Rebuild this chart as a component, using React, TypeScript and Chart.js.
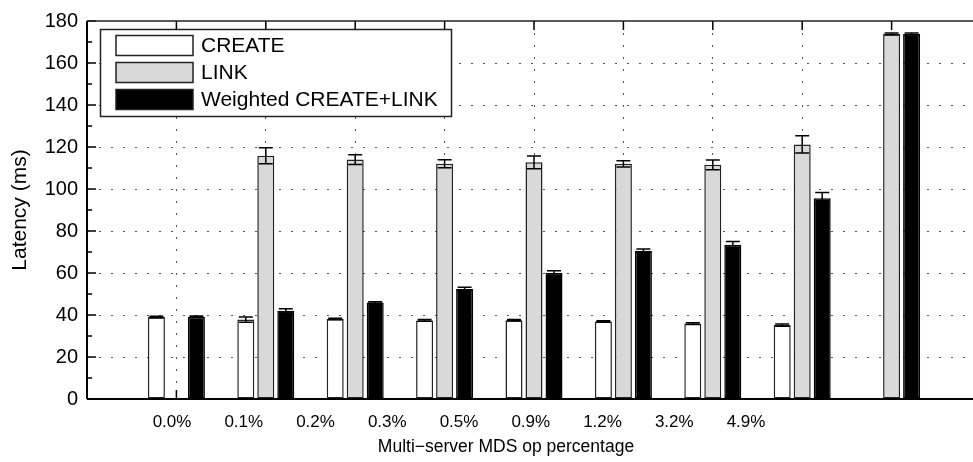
import React, { useEffect, useRef } from "react";
import { Chart, registerables } from "chart.js";

Chart.register(...registerables);

const categories = ["0.0%", "0.1%", "0.2%", "0.3%", "0.5%", "0.9%", "1.2%", "3.2%", "4.9%"];
const createValues = [39.0, 37.8, 38.1, 37.4, 37.5, 36.9, 35.9, 35.2, null];
const createErrors = [0.4, 1.2, 0.4, 0.4, 0.4, 0.4, 0.4, 0.5, null];
const linkValues = [null, 115.8, 114.0, 112.0, 112.7, 112.0, 111.5, 121.2, 173.8];
const linkErrors = [null, 3.8, 2.3, 1.9, 3.0, 1.5, 2.3, 4.1, 0.5];
const weightedValues = [39.2, 42.0, 45.9, 52.4, 60.0, 70.6, 73.5, 95.6, 173.8];
const weightedErrors = [0.3, 1.0, 0.4, 0.8, 1.1, 0.8, 1.5, 2.7, 0.5];
const seriesNames = ["CREATE", "LINK", "Weighted CREATE+LINK"];
const xTitle = "Multi\u2212server MDS op percentage";
const yTitle = "Latency (ms)";
const yMin = 0;
const yMax = 180;
const yStep = 20;

const FONT = "'Liberation Sans', Arial, Helvetica, sans-serif";

const pad = (arr: (number | null)[]) => [null, ...arr, null];

const errorBarPlugin = {
  id: "errorBars",
  afterDatasetsDraw(chart: any) {
    const ctx = chart.ctx;
    const yScale = chart.scales.y;
    ctx.save();
    ctx.strokeStyle = "#000";
    ctx.lineWidth = 1.5;
    chart.data.datasets.forEach((ds: any, d: number) => {
      const meta = chart.getDatasetMeta(d);
      ds.data.forEach((v: number | null, i: number) => {
        const e = ds.errors ? ds.errors[i] : null;
        if (v == null || e == null) return;
        const el = meta.data[i];
        if (!el) return;
        const x = el.x;
        const yt = yScale.getPixelForValue(v + e);
        const yb = yScale.getPixelForValue(v - e);
        const hw = 7;
        ctx.beginPath();
        ctx.moveTo(x, yt);
        ctx.lineTo(x, yb);
        ctx.moveTo(x - hw, yt);
        ctx.lineTo(x + hw, yt);
        ctx.moveTo(x - hw, yb);
        ctx.lineTo(x + hw, yb);
        ctx.stroke();
      });
    });
    ctx.restore();
  },
};

const axesPlugin = {
  id: "matlabAxes",
  beforeDatasetsDraw(chart: any) {
    const { ctx, chartArea } = chart;
    const x = chart.scales.x;
    const y = chart.scales.y;
    ctx.save();
    ctx.strokeStyle = "#000";
    ctx.lineWidth = 1.5;
    ctx.beginPath();
    for (let i = 1; i <= categories.length; i++) {
      const px = x.getPixelForValue(i);
      ctx.moveTo(px, chartArea.bottom);
      ctx.lineTo(px, chartArea.bottom - 9);
      ctx.moveTo(px, chartArea.top);
      ctx.lineTo(px, chartArea.top + 9);
    }
    for (let v = yMin; v <= yMax; v += yStep) {
      const py = y.getPixelForValue(v);
      ctx.moveTo(chartArea.left, py);
      ctx.lineTo(chartArea.left + 9, py);
    }
    for (let v = yMin + yStep / 2; v < yMax; v += yStep) {
      const py = y.getPixelForValue(v);
      ctx.moveTo(chartArea.left, py);
      ctx.lineTo(chartArea.left + 5, py);
    }
    ctx.stroke();
    ctx.restore();
  },
  afterDatasetsDraw(chart: any) {
    const { ctx, chartArea } = chart;
    ctx.save();
    ctx.strokeStyle = "#000";
    ctx.lineWidth = 2;
    ctx.beginPath();
    ctx.moveTo(chartArea.left, chartArea.bottom);
    ctx.lineTo(chartArea.right, chartArea.bottom);
    ctx.moveTo(chartArea.left, chartArea.top);
    ctx.lineTo(chartArea.left, chartArea.bottom);
    ctx.stroke();
    ctx.lineWidth = 1.5;
    ctx.strokeStyle = "#222";
    ctx.beginPath();
    ctx.moveTo(chartArea.left, chartArea.top);
    ctx.lineTo(chartArea.right, chartArea.top);
    ctx.stroke();
    ctx.fillStyle = "#000";
    ctx.font = `17.5px ${FONT}`;
    ctx.textAlign = "center";
    ctx.textBaseline = "middle";
    ctx.fillText(xTitle, chartArea.left + 419, chartArea.bottom + 48);
    ctx.restore();
  },
};

const legendPlugin = {
  id: "boxLegend",
  afterDraw(chart: any) {
    const ctx = chart.ctx;
    const bx = 100.5, by = 29.5, bw = 351, bh = 87;
    ctx.save();
    ctx.fillStyle = "#fff";
    ctx.fillRect(bx, by, bw, bh);
    ctx.strokeStyle = "#222";
    ctx.lineWidth = 1.5;
    ctx.strokeRect(bx, by, bw, bh);
    ctx.font = `21px ${FONT}`;
    ctx.textBaseline = "middle";
    ctx.textAlign = "left";
    chart.data.datasets.forEach((ds: any, i: number) => {
      const sy = 35.5 + i * 27;
      ctx.fillStyle = ds.backgroundColor;
      ctx.fillRect(116, sy, 77, 20);
      ctx.strokeStyle = "#222";
      ctx.lineWidth = 1.5;
      ctx.strokeRect(116, sy, 77, 20);
      ctx.fillStyle = "#000";
      ctx.fillText(ds.label, 201, sy + 10.5);
    });
    ctx.restore();
  },
};

export default function App() {
  const ref = useRef<HTMLCanvasElement>(null);
  useEffect(() => {
    document.body.style.margin = "0";
    const canvas = ref.current!;
    const labelSpacing = 71.75;
    const areaWidth = 894;
    const lMin = -(172 - 87) / labelSpacing;
    const lMax = lMin + areaWidth / labelSpacing;
    const chart = new Chart(canvas, {
      type: "bar",
      data: {
        labels: ["", ...categories, ""],
        datasets: [
          {
            label: seriesNames[0],
            data: pad(createValues),
            errors: pad(createErrors),
            backgroundColor: "#ffffff",
            borderColor: "#222",
            borderWidth: 1.5,
            borderSkipped: false,
          } as any,
          {
            label: seriesNames[1],
            data: pad(linkValues),
            errors: pad(linkErrors),
            backgroundColor: "#d9d9d9",
            borderColor: "#222",
            borderWidth: 1.5,
            borderSkipped: false,
          } as any,
          {
            label: seriesNames[2],
            data: pad(weightedValues),
            errors: pad(weightedErrors),
            backgroundColor: "#000000",
            borderColor: "#000",
            borderWidth: 1.5,
            borderSkipped: false,
          } as any,
        ],
      },
      options: {
        animation: false,
        responsive: false,
        devicePixelRatio: 1,
        layout: { padding: { left: 0, right: 9, top: 15, bottom: 0 } },
        categoryPercentage: 60 / 89.4,
        barPercentage: 0.85,
        plugins: { legend: { display: false }, tooltip: { enabled: false } },
        scales: {
          x: {
            type: "category",
            position: "bottom",
            offset: false,
            ticks: { display: false },
            grid: {
              offset: false,
              drawTicks: false,
              lineWidth: 1,
              color: (c: any) => (c.index >= 1 && c.index <= categories.length ? "#555" : "rgba(0,0,0,0)"),
            },
            border: { display: false, dash: [2, 10] },
            afterFit: (s: any) => {
              s.height = 0;
            },
          },
          xl: {
            type: "linear",
            position: "bottom",
            offset: false,
            min: lMin,
            max: lMax,
            grid: { display: false, drawTicks: false, offset: false },
            border: { display: false },
            afterBuildTicks: (s: any) => {
              s.ticks = categories.map((_, i) => ({ value: i }));
            },
            ticks: {
              autoSkip: false,
              maxRotation: 0,
              padding: 13,
              color: "#000",
              font: { family: FONT, size: 17 },
              callback: (v: any) => categories[v as number],
            },
            afterFit: (s: any) => {
              s.height = 63;
            },
          },
          y: {
            type: "linear",
            min: yMin,
            max: yMax,
            ticks: {
              stepSize: yStep,
              padding: 9,
              color: "#000",
              font: { family: FONT, size: 20 },
            },
            grid: {
              drawTicks: false,
              lineWidth: 1,
              color: (c: any) => {
                const v = c.tick ? c.tick.value : null;
                return v === yMin || v === yMax ? "rgba(0,0,0,0)" : "#555";
              },
            },
            border: { display: false, dash: [2, 10] },
            title: {
              display: true,
              text: yTitle,
              color: "#000",
              font: { family: FONT, size: 21 },
              padding: { top: 8, bottom: 0 },
            },
            afterFit: (s: any) => {
              s.width = 87;
            },
          },
        },
      } as any,
      plugins: [axesPlugin, errorBarPlugin, legendPlugin],
    });
    return () => chart.destroy();
  }, []);
  return (
    <div style={{ width: 973, height: 462, overflow: "hidden", position: "relative", background: "#fff" }}>
      <canvas ref={ref} width={990} height={462} style={{ width: 990, height: 462, display: "block" }} />
    </div>
  );
}
